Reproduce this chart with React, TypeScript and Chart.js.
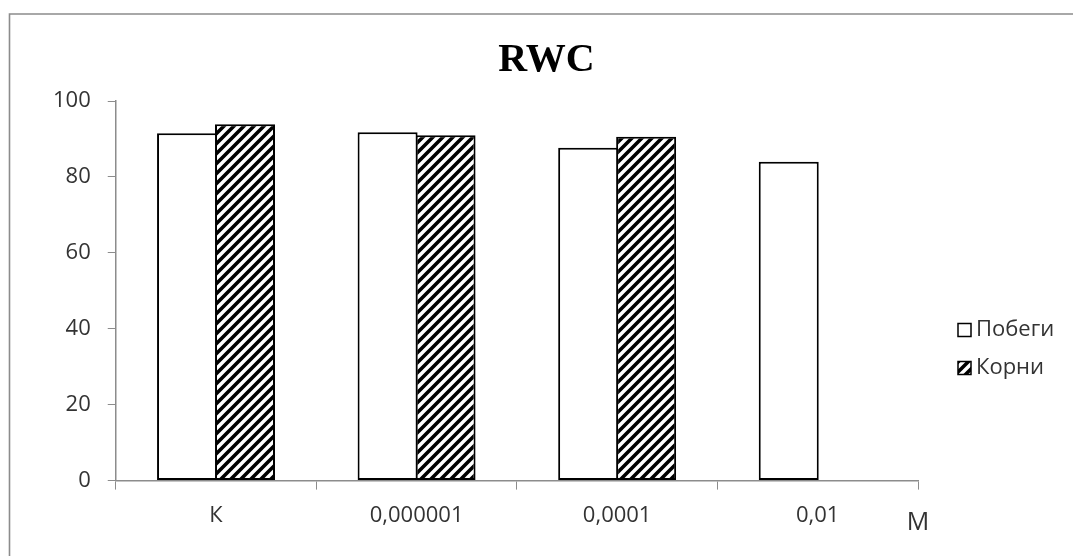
import React, { useEffect, useRef } from "react";
import { Chart, registerables } from "chart.js";

Chart.register(...registerables);

const categories = ["К", "0,000001", "0,0001", "0,01"];
const shootsValues = [91.5, 91.8, 87.7, 84.0];
const rootsValues: (number | null)[] = [93.9, 91.0, 90.6, null];
const seriesLabels = ["Побеги", "Корни"];
const yTickStep = 20;
const yMin = 0;
const yMax = 100;
const titleText = "RWC";
const unitLabel = "М";

function makeHatch(): CanvasPattern | string {
  const s = 10;
  const c = document.createElement("canvas");
  c.width = s;
  c.height = s;
  const g = c.getContext("2d");
  if (!g) return "#000";
  g.fillStyle = "#fff";
  g.fillRect(0, 0, s, s);
  g.strokeStyle = "#000";
  g.lineWidth = 3.6;
  g.beginPath();
  for (let k = -1; k <= 1; k++) {
    g.moveTo(-2, s + 2 + k * s);
    g.lineTo(s + 2, -2 + k * s);
  }
  g.stroke();
  const p = g.createPattern(c, "repeat");
  return p || "#000";
}

const TEXT = "#333333";
const AXIS = "#8c8c8c";
const SANS = "'Open Sans', 'Liberation Sans', sans-serif";

export default function App() {
  const ref = useRef<HTMLCanvasElement | null>(null);

  useEffect(() => {
    const canvas = ref.current;
    if (!canvas) return;
    const hatch = makeHatch();

    const frame = {
      id: "frame",
      beforeDraw(chart: any) {
        const ctx = chart.ctx;
        ctx.save();
        ctx.strokeStyle = AXIS;
        ctx.lineWidth = 1.6;
        ctx.beginPath();
        ctx.moveTo(9.5, chart.height);
        ctx.lineTo(9.5, 14);
        ctx.lineTo(chart.width, 14);
        ctx.stroke();
        ctx.restore();
      },
    };

    const extras = {
      id: "extras",
      afterDraw(chart: any) {
        const ctx = chart.ctx;
        const area = chart.chartArea;
        const xs = chart.scales.x;
        ctx.save();
        // title
        ctx.fillStyle = "#000";
        ctx.font = "bold 40px 'Liberation Serif', 'Times New Roman', serif";
        ctx.textAlign = "center";
        ctx.textBaseline = "middle";
        ctx.fillText(titleText, chart.width / 2 + 10, 61);
        // unit label
        ctx.fillStyle = TEXT;
        ctx.font = `25px ${SANS}`;
        ctx.textAlign = "center";
        ctx.textBaseline = "middle";
        ctx.fillText(unitLabel, xs.right, area.bottom + 42);
        // legend
        ctx.font = `22px ${SANS}`;
        ctx.textAlign = "left";
        chart.data.datasets.forEach((ds: any, i: number) => {
          const x = area.right + 40;
          const y = area.top + 229 + i * 38;
          ctx.fillStyle = ds.backgroundColor;
          ctx.fillRect(x, y - 6.5, 13, 13);
          ctx.strokeStyle = "#000";
          ctx.lineWidth = 1.5;
          ctx.strokeRect(x, y - 6.5, 13, 13);
          ctx.fillStyle = TEXT;
          ctx.fillText(ds.label, x + 18, y);
        });
        ctx.restore();
      },
    };

    const chart = new Chart(canvas, {
      type: "bar",
      data: {
        labels: categories,
        datasets: [
          {
            label: seriesLabels[0],
            data: shootsValues,
            backgroundColor: "#ffffff",
            borderColor: "#000000",
            borderWidth: 2,
            borderSkipped: false,
            barPercentage: 1.035,
            categoryPercentage: 0.578,
          },
          {
            label: seriesLabels[1],
            data: rootsValues,
            backgroundColor: hatch as any,
            borderColor: "#000000",
            borderWidth: 2,
            borderSkipped: false,
            barPercentage: 1.035,
            categoryPercentage: 0.578,
          },
        ],
      },
      options: {
        responsive: false,
        animation: false,
        layout: { padding: { left: 36, right: 155, top: 101, bottom: 14 } },
        plugins: {
          legend: { display: false },
          tooltip: { enabled: false },
          title: { display: false },
        },
        scales: {
          x: {
            grid: { display: true, drawOnChartArea: false, drawTicks: true, tickLength: 9, color: AXIS, offset: true },
            border: { display: true, color: AXIS, width: 1.5 },
            ticks: { color: TEXT, font: { family: SANS, size: 22 }, padding: 13 },
          },
          y: {
            min: yMin,
            max: yMax,
            grid: { display: true, drawOnChartArea: false, drawTicks: true, tickLength: 8, color: AXIS },
            border: { display: true, color: AXIS, width: 1.5 },
            ticks: { stepSize: yTickStep, color: TEXT, font: { family: SANS, size: 22 }, padding: 17 },
          },
        },
      },
      plugins: [frame, extras],
    });

    return () => chart.destroy();
  }, []);

  return (
    <div style={{ position: "fixed", left: 0, top: 0, width: 1073, height: 556, background: "#fff" }}>
      <canvas ref={ref} width={1073} height={556} style={{ display: "block" }} />
    </div>
  );
}
